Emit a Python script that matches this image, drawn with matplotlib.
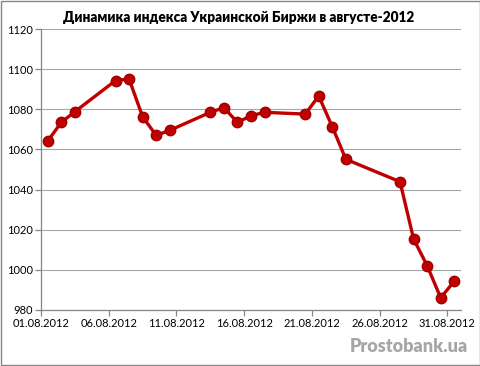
import matplotlib
matplotlib.use("Agg")
import matplotlib.pyplot as plt
import matplotlib.dates as mdates
from matplotlib.patches import Rectangle
from datetime import datetime, timedelta

# Trading days of August 2012 and index close values
days = [1, 2, 3, 6, 7, 8, 9, 10, 13, 14, 15, 16, 17, 20, 21, 22, 23, 27, 28, 29, 30, 31]
values = [1064.2, 1073.5, 1078.8, 1094.3, 1095.1, 1076.3, 1067.0, 1069.5, 1078.5, 1080.8,
          1073.5, 1076.8, 1078.5, 1077.6, 1086.6, 1071.3, 1055.1, 1043.9, 1015.4, 1002.1,
          986.1, 994.3]
tick_days = [1, 6, 11, 16, 21, 26, 31]
title = "Динамика индекса Украинской Биржи в августе-2012"

plt.rcParams['font.family'] = ['Lato', 'DejaVu Sans']

# Excel-style date axis: points sit in the middle of each day
dates = [datetime(2012, 8, d) + timedelta(hours=12) for d in days]
ticks = [datetime(2012, 8, d) for d in tick_days]

fig = plt.figure(figsize=(4.81, 3.66), dpi=100)
ax = fig.add_axes([41 / 481, 1 - 310 / 366, 420 / 481, 281 / 366])

ax.plot(dates, values, color="#C00000", linewidth=2.4, marker="o", markersize=7.5,
        markerfacecolor="#C00000", markeredgecolor="#A00000", zorder=3)

ax.set_ylim(980, 1120)
ax.set_yticks(range(980, 1121, 20))
ax.set_xlim(datetime(2012, 8, 1), datetime(2012, 9, 1))
ax.set_xticks(ticks)
ax.xaxis.set_major_formatter(mdates.DateFormatter("%d.%m.%Y"))

ax.grid(axis="y", color="#a6a6a6", linewidth=0.8)
ax.set_axisbelow(True)
for s in ["top", "right"]:
    ax.spines[s].set_visible(False)
for s in ["left", "bottom"]:
    ax.spines[s].set_color("#868686")
    ax.spines[s].set_linewidth(0.9)
ax.tick_params(axis="both", colors="#868686", labelcolor="black", labelsize=8,
               length=4, width=0.9, pad=2)

fig.text(0.497, 1 - 17 / 366, title, ha="center", va="center", fontsize=9.8,
         fontweight="heavy")
fig.text(0.972, 1 - 346 / 366, "Prostobank.ua", ha="right", va="center", fontsize=13,
         fontweight="heavy", color="#a6a6a6")

fig.patches.append(Rectangle((0.002, 0.003), 0.995, 0.994, transform=fig.transFigure,
                             fill=False, edgecolor="#868686", linewidth=1))

fig.savefig("out.png", dpi=100)
